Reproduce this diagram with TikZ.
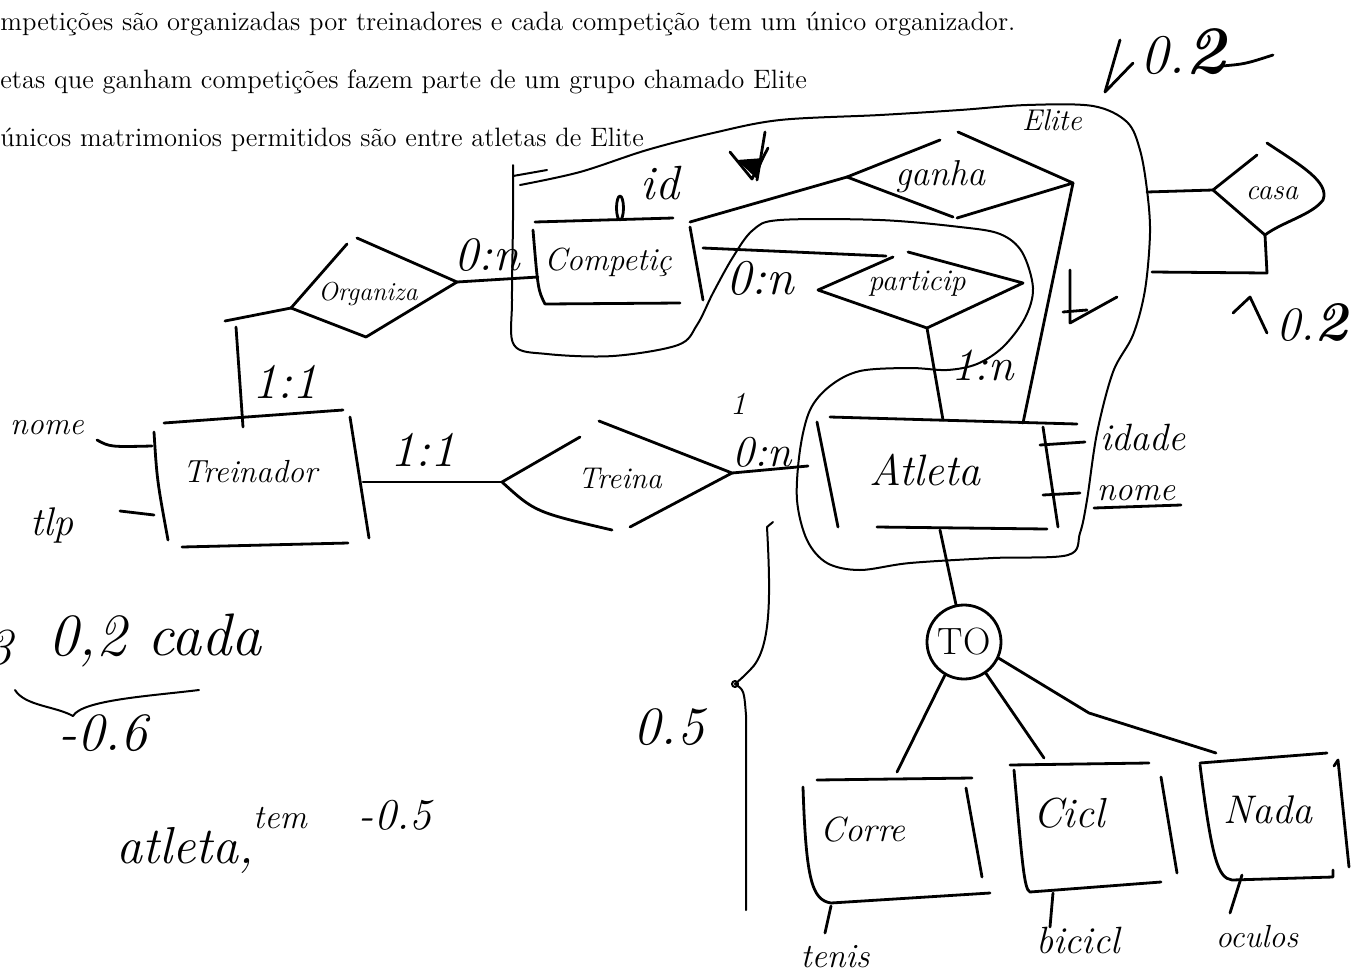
\documentclass[tikz,border=0pt]{standalone}
\begin{document}
\begin{tikzpicture}[x=0.5pt,y=-0.5pt,
  pen/.style={line width=1.4pt, line cap=round, line join=round},
  thinpen/.style={line width=1pt, line cap=round, line join=round},
  hw/.style={font=\fontsize{#1}{#1}\selectfont\itshape, inner sep=0pt},
  printed/.style={font=\fontsize{13.3}{16}\selectfont, inner sep=0pt, anchor=base west}]
\path[use as bounding box] (0,0) rectangle (1362,976);
\clip (0,0) rectangle (1362,976);

% printed statement lines
\node[printed] (t1) at (0,30) {mpetições são organizadas por treinadores e cada competição tem um único organizador.};
\node[printed] (t2) at (0,88) {etas que ganham competições fazem parte de um grupo chamado Elite};
\node[printed] (t3) at (0,146) {únicos matrimonios permitidos são entre atletas de Elite};

% ---------- Elite aggregation outline ----------
\draw[thinpen] plot[smooth, tension=0.55] coordinates {(520,185) (580,172) (647,150) (713,133) (780,120) (880,115) (960,110) (1027,105) (1093,106) (1127,122) (1140,150) (1147,190) (1150,233) (1145,290) (1133,335) (1113,372) (1097,433) (1087,500) (1080,533) (1068,555) (993,558) (910,563) (860,570) (827,563) (807,540) (797,500) (800,450) (810,410) (830,386) (860,371) (910,368) (947,370) (977,364) (1003,347) (1025,318) (1033,288) (1022,252) (1000,234) (960,227) (880,220) (780,220) (753,230) (733,257) (713,293) (697,325) (678,345) (613,356) (547,354) (514,345) (512,300) (513,220) (513,165)};
\draw[thinpen] (513,176) -- (547,170);
\node[hw=15] (elite) at (1052,120) {Elite};

% ---------- Treinador ----------
\node[hw=16] (treinador) at (250,472) {Treinador};
\draw[pen] (164,423) -- (343,410);
\draw[pen] (154,432) .. controls (157,480) .. (168,540);
\draw[pen] (350,417) -- (369,538);
\draw[pen] (182,547) -- (348,543);
\coordinate (trL1) at (152,446);
\coordinate (trL2) at (154,515);
\coordinate (trR) at (363,482);
\coordinate (trTopIn) at (243,427);
\node[hw=16] (nomeT) at (47,428) {nome};
\node[hw=20] (tlp) at (52,525) {tlp};
\coordinate (nomeTe) at (97,440);
\coordinate (tlpe) at (120,511);
\draw[pen] (nomeTe) .. controls (110,447) .. (trL1);
\draw[pen] (tlpe) -- (trL2);

% ---------- Organiza ----------
\coordinate (orgW) at (291,308);
\coordinate (orgE) at (457,282);
\coordinate (orgS) at (366,337);
\draw[pen] (357,238) -- (orgE) -- (orgS) -- (orgW) -- (347,244);
\node[hw=13] (organiza) at (368,294) {Organiza};
\coordinate (orgLL) at (225,321);
\coordinate (orgV) at (236,327);
\draw[pen] (orgLL) -- (orgW);
\draw[pen] (orgV) -- (trTopIn);
\node[hw=25] (c11a) at (285,382) {1:1};

% ---------- Treina ----------
\coordinate (treinaW) at (502,482);
\coordinate (treinaE) at (732,473);
\draw[pen] (treinaW) -- (580,437);
\draw[pen] (599,421) -- (treinaE) -- (630,527);
\draw[pen] (treinaW) .. controls (535,512) .. (612,530);
\node[hw=15] (treina) at (620,478) {Treina};
\draw[pen] (trR) -- (treinaW);
\node[hw=25] (c11b) at (423,450) {1:1};
\coordinate (atlW) at (808,466);
\draw[pen] (treinaE) -- (atlW);
\node[hw=22] (c0nb) at (762,452) {0:n};
\node[hw=16] (c0nbone) at (738,404) {1};

% ---------- Competiç ----------
\draw[pen] (535,222) -- (673,218);
\draw[pen] (533,230) .. controls (538,290) .. (545,304) -- (680,303);
\draw[pen] (690,227) -- (703,300);
\node[hw=16] (compet) at (608,262) {Competiç};
\coordinate (compW) at (538,277);
\coordinate (compNE) at (690,222);
\coordinate (compE) at (703,248);
\draw[pen] (orgE) -- (compW);
\node[hw=24] (c0na) at (487,255) {0:n};
\draw[pen] (620,208) ellipse [x radius=3.5, y radius=12];
\node[hw=24] (id) at (660,183) {id};
% scribbled mark
\draw[pen] (765,132) -- (757,180);
\draw[pen] (730,152) -- (752,179) -- (768,148);
\fill (737,160) -- (756,178) -- (764,158) -- cycle;

% ---------- ganha ----------
\coordinate (ganW) at (847,177);
\coordinate (ganE) at (1073,183);
\draw[pen] (ganW) -- (940,140);
\draw[pen] (958,132) -- (ganE) -- (957,218);
\draw[pen] (ganW) -- (953,217);
\node[hw=18] (ganha) at (940,177) {ganha};
\draw[pen] (compNE) -- (ganW);

% ---------- particip ----------
\coordinate (parW) at (818,290);
\coordinate (parE) at (1023,283);
\coordinate (parS) at (927,328);
\coordinate (parNW) at (886,256);
\draw[pen] (parW) -- (893,257);
\draw[pen] (908,252) -- (parE) -- (parS) -- (parW);
\node[hw=15] (particip) at (917,284) {particip};
\draw[pen] (compE) -- (parNW);
\node[hw=25] (c0nc) at (760,278) {0:n};

% ---------- Atleta ----------
\draw[pen] (817,422) -- (838,527);
\draw[pen] (830,417) -- (1077,424);
\draw[pen] (1043,427) -- (1058,527);
\draw[pen] (877,527) -- (1047,529);
\node[hw=22] (atleta) at (925,470) {Atleta};
\coordinate (atlTopP) at (943,420);
\coordinate (atlTopG) at (1023,423);
\coordinate (atlBot) at (940,530);
\coordinate (atlR1) at (1040,445);
\coordinate (atlR2) at (1043,495);
\draw[pen] (parS) -- (atlTopP);
\node[hw=23] (c1n) at (983,365) {1:n};
\draw[pen] (atlTopG) -- (ganE);
\draw[pen] (1070,270) -- (1070,323) -- (1117,297);
\draw[pen] (1063,312) -- (1087,310);
\node[hw=19] (idade) at (1143,437) {idade};
\node[hw=17] (nomeA) at (1136,493) {nome};
\coordinate (idadeW) at (1085,442);
\coordinate (nomeAW) at (1080,493);
\draw[pen] (atlR1) -- (idadeW);
\draw[pen] (atlR2) -- (nomeAW);
\draw[pen] (1094,508) -- (1181,505);

% ---------- casa ----------
\coordinate (casaW) at (1213,190);
\coordinate (casaN) at (1267,143);
\coordinate (casaE) at (1323,200);
\coordinate (casaS) at (1265,235);
\draw[pen] (casaW) -- (1257,155);
\draw[pen] (casaN) .. controls (1300,165) and (1330,182) .. (casaE) .. controls (1312,215) and (1282,222) .. (casaS) -- (casaW);
\node[hw=14.5] (casa) at (1272,193) {casa};
\coordinate (eliteR1) at (1147,192);
\coordinate (eliteR2) at (1152,272);
\coordinate (casaB) at (1267,273);
\draw[pen] (eliteR1) -- (casaW);
\draw[pen] (casaS) -- (casaB) -- (eliteR2);

% ---------- specialisation ----------
\node[circle, draw, pen, minimum size=37pt, inner sep=0pt, font=\fontsize{19}{19}\selectfont] (to) at (964,642) {TO};
\draw[pen] (atlBot) -- (to);
\coordinate (correN) at (897,772);
\coordinate (ciclN) at (1044,758);
\coordinate (nadaBend) at (1089,713);
\coordinate (nadaN) at (1216,753);
\draw[pen] (to.-120) -- (correN);
\draw[pen] (to.-55) -- (ciclN);
\draw[pen] (to.-25) -- (nadaBend) -- (nadaN);

% Corre
\draw[pen] (817,780) -- (972,778);
\draw[pen] (803,787) .. controls (806,880) and (812,900) .. (831,903) -- (990,893);
\draw[pen] (966,788) -- (982,877);
\node[hw=17.5] (corre) at (863,830) {Corre};
\coordinate (correB) at (831,906);
\coordinate (tenisT) at (825,933);
\draw[pen] (correB) -- (tenisT);
\node[hw=17] (tenis) at (835,957) {tenis};

% Cicl
\draw[pen] (1010,765) -- (1149,763);
\draw[pen] (1014,770) .. controls (1022,860) and (1024,890) .. (1030,892) -- (1161,882);
\draw[pen] (1161,777) -- (1177,873);
\node[hw=21] (cicl) at (1069,813) {Cicl};
\coordinate (ciclB) at (1053,893);
\coordinate (biciclT) at (1050,927);
\draw[pen] (ciclB) -- (biciclT);
\node[hw=19] (bicicl) at (1078,940) {bicicl};

% Nada
\draw[pen] (1200,763) -- (1327,753);
\draw[pen] (1200,765) .. controls (1212,860) and (1218,878) .. (1232,880) -- (1333,877) -- (1333,870);
\draw[pen] (1334,766) -- (1338,760) -- (1349,867);
\node[hw=20] (nada) at (1268,810) {Nada};
\coordinate (nadaB) at (1242,875);
\coordinate (oculosT) at (1230,913);
\draw[pen] (nadaB) -- (oculosT);
\node[hw=16] (oculos) at (1257,937) {oculos};

% ---------- grading marks ----------
\draw[pen] (1120,40) -- (1105,92) -- (1133,63);
\node[hw=28, anchor=west] (g1) at (1140,52) {0.{\fontsize{34}{34}\selectfont\bfseries 2}};
\draw[pen] (1222,66) .. controls (1245,64) .. (1273,55);
\draw[pen] (1233,313) -- (1250,297) -- (1267,333);
\node[hw=24, anchor=west] (g2) at (1276,322) {0.{\fontsize{28}{28}\selectfont\bfseries 2}};

\node[hw=27] (g05) at (669,727) {0.5};
\draw[thinpen] (773,522) -- (767,527) .. controls (771,600) and (771,650) .. (750,670) .. controls (742,678) .. (735,684) .. controls (744,690) .. (746,715) -- (746,910);
\draw[thinpen] (735,684) circle [radius=3];

\node[hw=26] (g3) at (0,648) {3};
\node[hw=30, anchor=west] (g02) at (48,640) {0,2 cada};
\draw[thinpen] (15,690) .. controls (25,706) and (55,706) .. (73,716) .. controls (82,700) and (150,696) .. (199,690);
\node[hw=27] (g06) at (103,733) {-0.6};
\node[hw=26] (gat) at (185,850) {atleta,};
\node[hw=17] (gtem) at (280,818) {tem};
\node[hw=22] (g055) at (395,815) {-0.5};
\end{tikzpicture}
\end{document}
